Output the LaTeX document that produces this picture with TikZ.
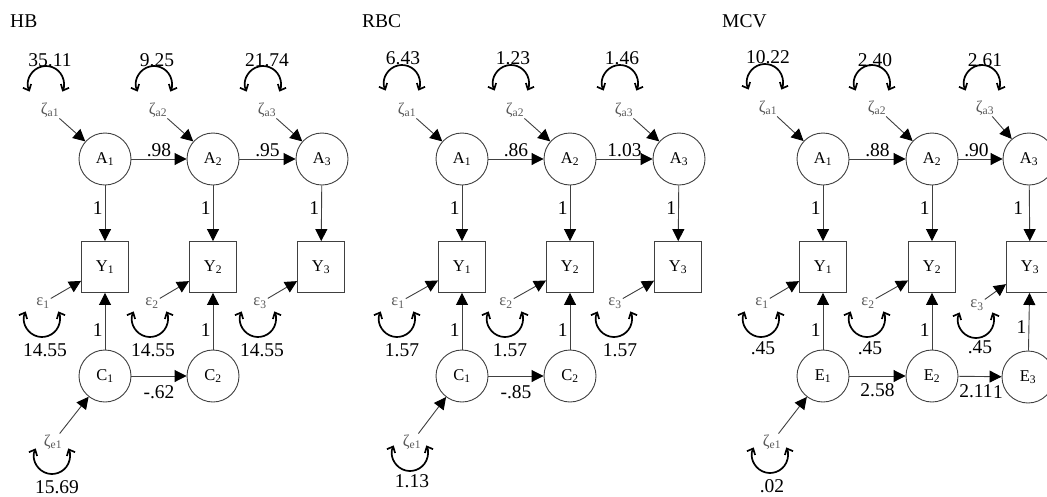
\documentclass[tikz,border=0pt]{standalone}
\usepackage{fontspec}
\setmainfont{Liberation Serif}
\usetikzlibrary{arrows.meta,calc}
\definecolor{linec}{HTML}{404040}
\definecolor{labc}{HTML}{5A5A5A}
\tikzset{
 lat/.style={circle, draw=linec, line width=0.9pt, minimum size=52pt, inner sep=0pt, font=\fontsize{16.5}{16.5}\selectfont},
 obs/.style={rectangle, draw=linec, line width=0.9pt, minimum width=47pt, minimum height=51pt, inner sep=0pt, font=\fontsize{16.5}{16.5}\selectfont},
 dist/.style={text=labc, inner sep=1pt, font=\fontsize{16.5}{16.5}\selectfont},
 num/.style={inner sep=0pt, font=\fontsize{19.5}{19.5}\selectfont},
 ttl/.style={inner sep=0pt, anchor=base west, font=\fontsize{19.5}{19.5}\selectfont},
 elab/.style={inner sep=0pt, font=\fontsize{19.5}{19.5}\selectfont},
 arr/.style={draw=linec, line width=0.9pt, -{Triangle[length=12pt,width=12pt,color=black]}},
 vloop/.style={black, line width=1.7pt, {Straight Barb[length=5pt,width=9pt]}-{Straight Barb[length=5pt,width=9pt]}},
}
\newcommand{\upvar}[2]{\draw[vloop] ([shift={(205:18)}]#1,#2) arc[start angle=205,end angle=-25,radius=18];}
\newcommand{\dnvar}[2]{\draw[vloop] ([shift={(155:18)}]#1,#2) arc[start angle=155,end angle=385,radius=18];}
\begin{document}
\begin{tikzpicture}[x=1pt,y=1pt]
\clip (0,0) rectangle (1047,-496);
\fill[white] (0,0) rectangle (1047,-496);

% ================= HB =================
\node[ttl] (tHB) at (10,-27) {HB};
\node[lat] (hA1) at (105,-159) {A\textsubscript{1}};
\node[lat] (hA2) at (213,-159) {A\textsubscript{2}};
\node[lat] (hA3) at (322,-159) {A\textsubscript{3}};
\node[obs] (hY1) at (105,-267) {Y\textsubscript{1}};
\node[obs] (hY2) at (213,-267) {Y\textsubscript{2}};
\node[obs] (hY3) at (321,-267) {Y\textsubscript{3}};
\node[lat] (hC1) at (105,-376) {C\textsubscript{1}};
\node[lat] (hC2) at (213,-376) {C\textsubscript{2}};
\node[dist] (hza1) at (50,-110) {ζ\textsubscript{a1}};
\node[dist] (hza2) at (158,-110) {ζ\textsubscript{a2}};
\node[dist] (hza3) at (267,-110) {ζ\textsubscript{a3}};
\node[dist] (he1) at (43,-303) {ε\textsubscript{1}};
\node[dist] (he2) at (152,-303) {ε\textsubscript{2}};
\node[dist] (he3) at (260,-303) {ε\textsubscript{3}};
\node[dist] (hze1) at (53,-442) {ζ\textsubscript{e1}};
\node[num] (hv1) at (50,-60) {35.11};
\node[num] (hv2) at (157,-60) {9.25};
\node[num] (hv3) at (267,-60) {21.74};
\node[num] (hw1) at (45,-350) {14.55};
\node[num] (hw2) at (153,-350) {14.55};
\node[num] (hw3) at (262,-350) {14.55};
\node[num] (hu1) at (57,-487) {15.69};
\upvar{46}{-84}\upvar{154}{-84}\upvar{263}{-84}
\dnvar{42}{-319}\dnvar{150}{-319}\dnvar{258}{-319}
\dnvar{52}{-456}
\draw[arr] (hA1) -- node[elab, above=2pt] {.98} (hA2);
\draw[arr] (hA2) -- node[elab, above=2pt] {.95} (hA3);
\draw[arr] (hA1) -- node[elab, pos=0.4, left=2pt] {1} (hY1);
\draw[arr] (hA2) -- node[elab, pos=0.4, left=2pt] {1} (hY2);
\draw[arr] (hA3) -- node[elab, pos=0.4, left=2pt] {1} (hY3);
\draw[arr] (hC1) -- node[elab, pos=0.35, left=2pt] {1} (hY1);
\draw[arr] (hC2) -- node[elab, pos=0.35, left=2pt] {1} (hY2);
\draw[arr] (hC1) -- node[elab, below=9pt] {-.62} (hC2);
\draw[arr] (hza1) -- (hA1);
\draw[arr] (hza2) -- (hA2);
\draw[arr] (hza3) -- (hA3);
\draw[arr] (he1) -- (hY1);
\draw[arr] (he2) -- (hY2);
\draw[arr] (he3) -- (hY3);
\draw[arr] (hze1) -- (hC1);

% ================= RBC =================
\node[ttl] (tRBC) at (362,-27) {RBC};
\node[lat] (rA1) at (462,-159) {A\textsubscript{1}};
\node[lat] (rA2) at (570,-159) {A\textsubscript{2}};
\node[lat] (rA3) at (679,-159) {A\textsubscript{3}};
\node[obs] (rY1) at (462,-267) {Y\textsubscript{1}};
\node[obs] (rY2) at (570,-267) {Y\textsubscript{2}};
\node[obs] (rY3) at (678,-267) {Y\textsubscript{3}};
\node[lat] (rC1) at (462,-376) {C\textsubscript{1}};
\node[lat] (rC2) at (570,-376) {C\textsubscript{2}};
\node[dist] (rza1) at (407,-110) {ζ\textsubscript{a1}};
\node[dist] (rza2) at (515,-110) {ζ\textsubscript{a2}};
\node[dist] (rza3) at (624,-110) {ζ\textsubscript{a3}};
\node[dist] (re1) at (398,-303) {ε\textsubscript{1}};
\node[dist] (re2) at (506,-303) {ε\textsubscript{2}};
\node[dist] (re3) at (615,-303) {ε\textsubscript{3}};
\node[dist] (rze1) at (412,-442) {ζ\textsubscript{e1}};
\node[num] (rv1) at (403,-58) {6.43};
\node[num] (rv2) at (513,-58) {1.23};
\node[num] (rv3) at (622,-58) {1.46};
\node[num] (rw1) at (402,-350) {1.57};
\node[num] (rw2) at (510,-350) {1.57};
\node[num] (rw3) at (620,-350) {1.57};
\node[num] (ru1) at (412,-481) {1.13};
\upvar{402}{-83}\upvar{511}{-83}\upvar{620}{-83}
\dnvar{397}{-319}\dnvar{505}{-319}\dnvar{614}{-319}
\dnvar{410}{-453}
\draw[arr] (rA1) -- node[elab, above=2pt] {.86} (rA2);
\draw[arr] (rA2) -- node[elab, above=2pt] {1.03} (rA3);
\draw[arr] (rA1) -- node[elab, pos=0.4, left=2pt] {1} (rY1);
\draw[arr] (rA2) -- node[elab, pos=0.4, left=2pt] {1} (rY2);
\draw[arr] (rA3) -- node[elab, pos=0.4, left=2pt] {1} (rY3);
\draw[arr] (rC1) -- node[elab, pos=0.35, left=2pt] {1} (rY1);
\draw[arr] (rC2) -- node[elab, pos=0.35, left=2pt] {1} (rY2);
\draw[arr] (rC1) -- node[elab, below=9pt] {-.85} (rC2);
\draw[arr] (rza1) -- (rA1);
\draw[arr] (rza2) -- (rA2);
\draw[arr] (rza3) -- (rA3);
\draw[arr] (re1) -- (rY1);
\draw[arr] (re2) -- (rY2);
\draw[arr] (re3) -- (rY3);
\draw[arr] (rze1) -- (rC1);

% ================= MCV =================
\node[ttl] (tMCV) at (722,-27) {MCV};
\node[lat] (mA1) at (823,-159) {A\textsubscript{1}};
\node[lat] (mA2) at (932,-159) {A\textsubscript{2}};
\node[lat] (mA3) at (1029,-159) {A\textsubscript{3}};
\node[obs] (mY1) at (823,-267) {Y\textsubscript{1}};
\node[obs] (mY2) at (932,-267) {Y\textsubscript{2}};
\node[obs] (mY3) at (1030,-267) {Y\textsubscript{3}};
\node[lat] (mE1) at (823,-376) {E\textsubscript{1}};
\node[lat] (mE2) at (932,-376) {E\textsubscript{2}};
\node[lat] (mE3) at (1028,-377) {E\textsubscript{3}};
\node[dist] (mza1) at (768,-108) {ζ\textsubscript{a1}};
\node[dist] (mza2) at (877,-108) {ζ\textsubscript{a2}};
\node[dist] (mza3) at (985,-108) {ζ\textsubscript{a3}};
\node[dist] (me1) at (762,-303) {ε\textsubscript{1}};
\node[dist] (me2) at (868,-303) {ε\textsubscript{2}};
\node[dist] (me3) at (977,-305) {ε\textsubscript{3}};
\node[dist] (mze1) at (772,-442) {ζ\textsubscript{e1}};
\node[num] (mv1) at (768,-57) {10.22};
\node[num] (mv2) at (875,-60) {2.40};
\node[num] (mv3) at (985,-60) {2.61};
\node[num] (mw1) at (763,-348) {.45};
\node[num] (mw2) at (870,-348) {.45};
\node[num] (mw3) at (980,-347) {.45};
\node[num] (mu1) at (772,-486) {.02};
\upvar{765}{-82}\upvar{872}{-83}\upvar{982}{-83}
\dnvar{761}{-319}\dnvar{867}{-319}\dnvar{976}{-320}
\dnvar{770}{-455}
\draw[arr] (mA1) -- node[elab, above=2pt] {.88} (mA2);
\draw[arr] (mA2) -- node[elab, above=2pt, xshift=-4pt] {.90} (mA3);
\draw[arr] (mA1) -- node[elab, pos=0.4, left=2pt] {1} (mY1);
\draw[arr] (mA2) -- node[elab, pos=0.4, left=2pt] {1} (mY2);
\draw[arr] (mA3) -- node[elab, pos=0.4, left=6pt] {1} (mY3);
\draw[arr] (mE1) -- node[elab, pos=0.35, left=2pt] {1} (mY1);
\draw[arr] (mE2) -- node[elab, pos=0.35, left=2pt] {1} (mY2);
\draw[arr] (mE3) -- node[elab, pos=0.41, left=2pt] {1} (mY3);
\draw[arr] (mE1) -- node[elab, below=7pt] {2.58} (mE2);
\draw[arr] (mE2) -- node[elab, below=8pt, xshift=-4pt] {2.11} (mE3);
\node[elab] (mstray) at (998,-392) {1};
\draw[arr] (mza1) -- (mA1);
\draw[arr] (mza2) -- (mA2);
\draw[arr] (mza3) -- (mA3);
\draw[arr] (me1) -- (mY1);
\draw[arr] (me2) -- (mY2);
\draw[arr] (me3) -- (mY3);
\draw[arr] (mze1) -- (mE1);
\end{tikzpicture}
\end{document}
